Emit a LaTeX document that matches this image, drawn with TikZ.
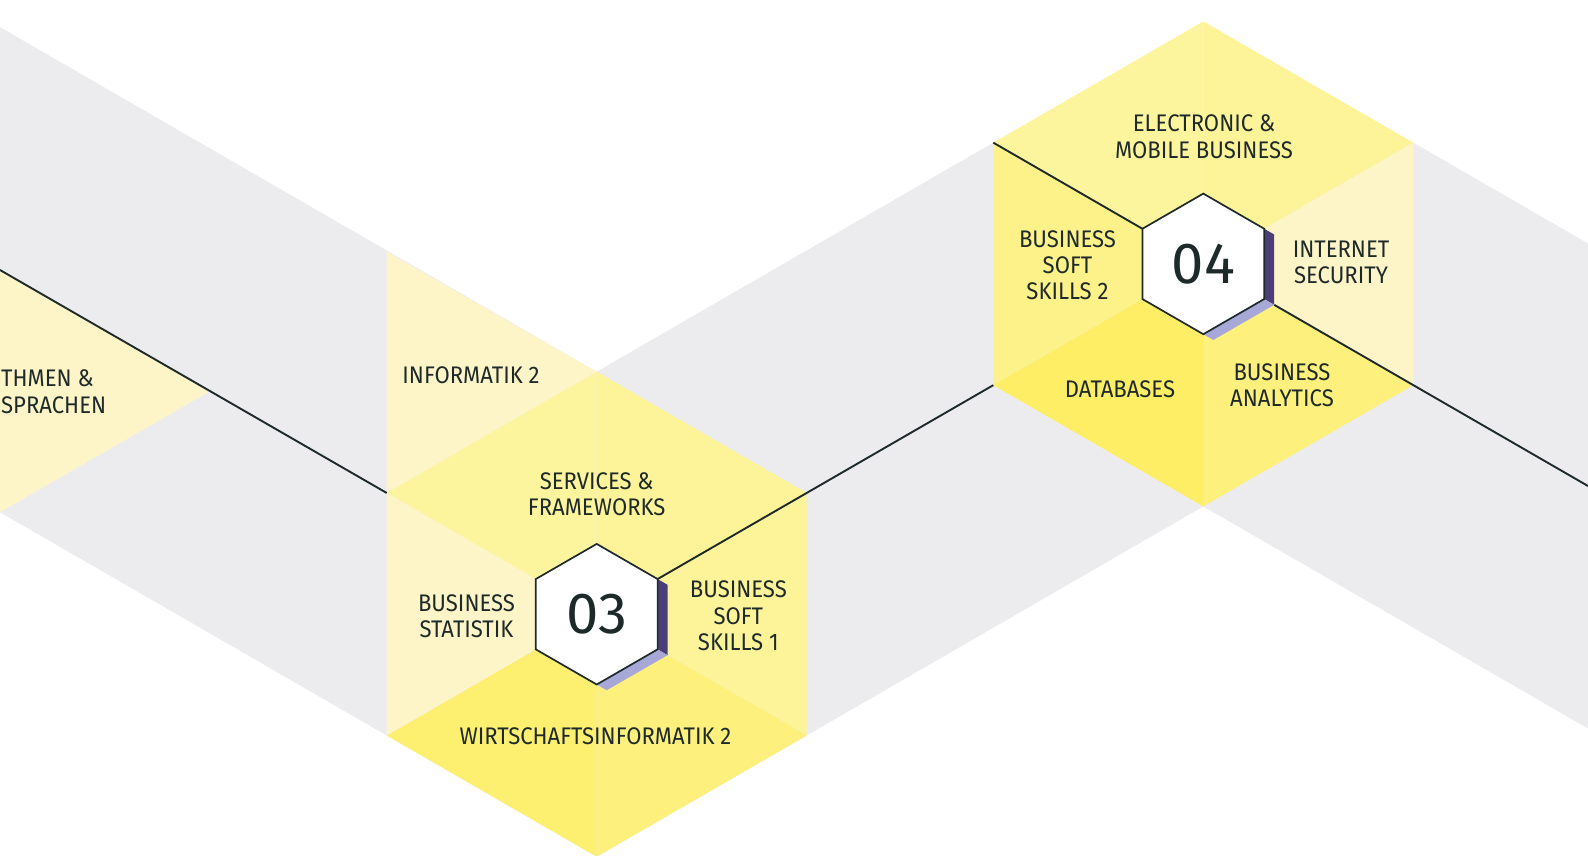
\documentclass[tikz,border=0pt]{standalone}
\usepackage{fontspec}
\setmainfont{Fira Sans}[FakeStretch=0.92]
\newfontfamily\numfont{Fira Sans}[FakeStretch=1.0]
\definecolor{ink}{HTML}{1E2A2A}
\definecolor{band}{HTML}{ECECEF}
\definecolor{pale}{HTML}{FDF5C8}
\definecolor{midA}{HTML}{FDF59D}
\definecolor{midB}{HTML}{FDF49A}
\definecolor{deepA}{HTML}{FDEF70}
\definecolor{deepB}{HTML}{FDF07D}
\definecolor{leftY}{HTML}{FDF18A}
\definecolor{dbY}{HTML}{FDEE66}
\definecolor{shadeD}{HTML}{4B3F79}
\definecolor{shadeL}{HTML}{A7A7D8}

\begin{document}
\begin{tikzpicture}[x=1pt,y=-1pt]

\tikzset{course/.style = {text=ink, font=\fontsize{24}{26.3}\selectfont, align=center, inner sep=0pt}}
\tikzset{hexnum/.style = {text=ink, font=\numfont\fontsize{58}{58}\selectfont, inner sep=0pt}}
\tikzset{track/.style = {draw=ink, line width=1.9pt}}
\tikzset{core/.style = {fill=white, draw=ink, line width=1.7pt}}

\useasboundingbox (0,0) rectangle (1588,855);
\clip (0,0) rectangle (1588,855);
\fill[white] (0,0) rectangle (1588,855);

%band
\fill[band] (0,27.2) -- (596.7,371.7) -- (993.3,142.65) -- (1413.3,142.65) -- (1588,243.5)
  -- (1588,728.5) -- (1203.3,506.4) -- (806.7,735.45) -- (596.7,856.7) -- (386.7,735.45) -- (0,512.2) -- cycle;

%corners 03
\coordinate (c3) at (596.7,614.2);
\coordinate (c3t) at (596.7,371.7);
\coordinate (c3tr) at (806.7,492.95);
\coordinate (c3br) at (806.7,735.45);
\coordinate (c3b) at (596.7,856.7);
\coordinate (c3bl) at (386.7,735.45);
\coordinate (c3tl) at (386.7,492.95);
%corners 04
\coordinate (c4) at (1203.3,263.9);
\coordinate (c4t) at (1203.3,21.4);
\coordinate (c4tr) at (1413.3,142.65);
\coordinate (c4br) at (1413.3,385.15);
\coordinate (c4b) at (1203.3,506.4);
\coordinate (c4bl) at (993.3,385.15);
\coordinate (c4tl) at (993.3,142.65);

%cells left
\fill[pale] (0,270) -- (210,391.2) -- (0,512.2) -- cycle;
\fill[pale] (386.7,251.7) -- (c3t) -- (c3tl) -- cycle;
%cells 03
\fill[midA] (c3) -- (c3tl) -- (c3t) -- cycle;
\fill[midB] (c3) -- (c3t) -- (c3tr) -- cycle;
\fill[midB] (c3) -- (c3tr) -- (c3br) -- cycle;
\fill[deepB] (c3) -- (c3br) -- (c3b) -- cycle;
\fill[deepA] (c3) -- (c3b) -- (c3bl) -- cycle;
\fill[pale] (c3) -- (c3bl) -- (c3tl) -- cycle;
%cells 04
\fill[midA] (c4) -- (c4tl) -- (c4t) -- cycle;
\fill[midB] (c4) -- (c4t) -- (c4tr) -- cycle;
\fill[pale] (c4) -- (c4tr) -- (c4br) -- cycle;
\fill[deepB] (c4) -- (c4br) -- (c4b) -- cycle;
\fill[dbY] (c4) -- (c4b) -- (c4bl) -- cycle;
\fill[leftY] (c4) -- (c4bl) -- (c4tl) -- cycle;

%line ends
\coordinate (start) at (0,270);
\coordinate (h3out) at (657.6,579.05);
\coordinate (h4in) at (1142.4,228.75);
\coordinate (h4out) at (1274.2,304.82);
\coordinate (stop) at (1588,486);

%track
\draw[track] (start) -- (c3tl);
\draw[track] (h3out) -- (c3tr) -- (c4bl);
\draw[track] (c4tl) -- (h4in);
\draw[track] (h4out) -- (stop);

%hex 03
\fill[shadeD] (657.6,579.05) -- (667.6,584.82) -- (667.6,655.12) -- (657.6,649.35) -- cycle;
\fill[shadeL] (657.6,649.35) -- (667.6,655.12) -- (606.7,690.27) -- (596.7,684.5) -- cycle;
\draw[core] (596.7,543.9) -- (657.6,579.05) -- (657.6,649.35) -- (596.7,684.5) -- (535.8,649.35) -- (535.8,579.05) -- cycle;
%hex 04
\fill[shadeD] (1264.2,228.75) -- (1274.2,234.52) -- (1274.2,304.82) -- (1264.2,299.05) -- cycle;
\fill[shadeL] (1264.2,299.05) -- (1274.2,304.82) -- (1213.3,339.97) -- (1203.3,334.2) -- cycle;
\draw[core] (1203.3,193.6) -- (1264.2,228.75) -- (1264.2,299.05) -- (1203.3,334.2) -- (1142.4,299.05) -- (1142.4,228.75) -- cycle;

%numbers
\node[hexnum] (n03) at (596.7,614.5) {03};
\node[hexnum] (n04) at (1203.3,264) {04};

%courses
\node[course, anchor=west] (alg1) at (1,378.3) {THMEN \&};
\node[course, anchor=west] (alg2) at (1,405) {SPRACHEN};
\node[course] (inf2) at (471,375) {INFORMATIK 2};
\node[course] (serv) at (596.7,494.2) {SERVICES \&\\FRAMEWORKS};
\node[course] (bstat) at (466.5,616) {BUSINESS\\STATISTIK};
\node[course] (bss1) at (738.3,615.8) {BUSINESS\\SOFT\\SKILLS 1};
\node[course] (wi2) at (595.5,736.3) {WIRTSCHAFTSINFORMATIK 2};
\node[course] (emb) at (1204,136.7) {ELECTRONIC \&\\MOBILE BUSINESS};
\node[course] (bss2) at (1067.5,265.3) {BUSINESS\\SOFT\\SKILLS 2};
\node[course] (isec) at (1341,262.3) {INTERNET\\SECURITY};
\node[course] (db) at (1120,389) {DATABASES};
\node[course] (bana) at (1282,385) {BUSINESS\\ANALYTICS};

\end{tikzpicture}
\end{document}
